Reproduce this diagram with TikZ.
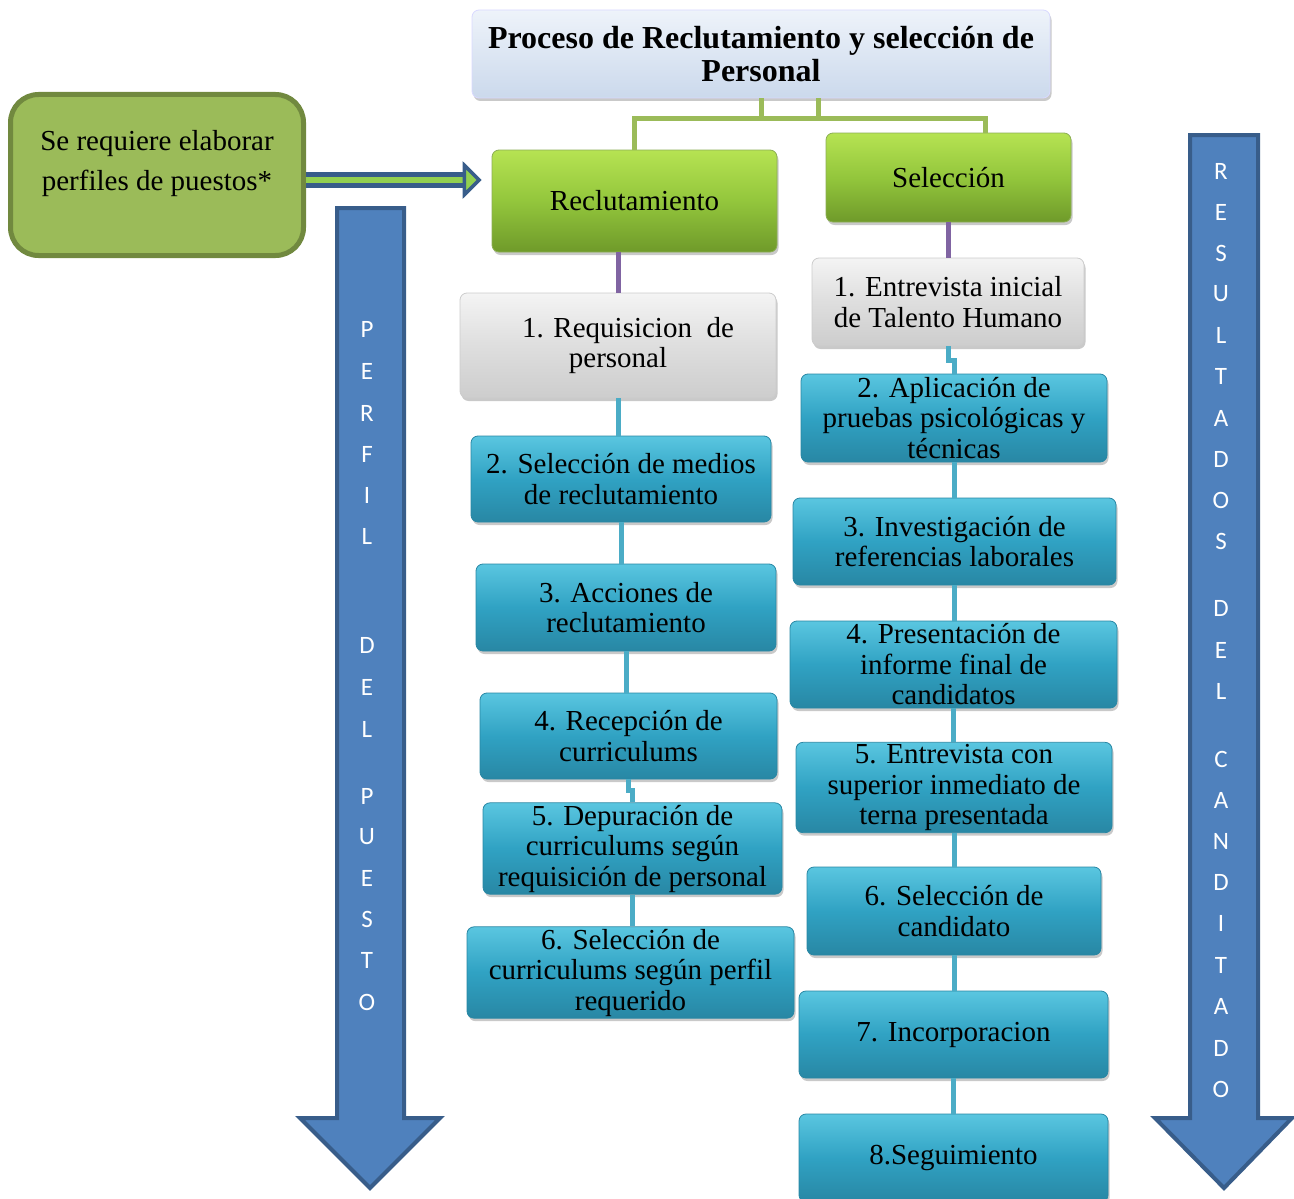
\documentclass[tikz,border=0pt]{standalone}
\usepackage{fontspec}
\setmainfont{Liberation Serif}
\newfontfamily\ltrfont{Carlito}
\usetikzlibrary{positioning, shadows, arrows.meta}

\definecolor{titletop}{HTML}{EEF3FA}
\definecolor{titlebot}{HTML}{CBD9EC}
\definecolor{grntop}{HTML}{B6E352}
\definecolor{grnmid}{HTML}{93C63C}
\definecolor{grnbot}{HTML}{6F9A2A}
\definecolor{graytop}{HTML}{F4F4F4}
\definecolor{graymid}{HTML}{DEDEDE}
\definecolor{graybot}{HTML}{CDCDCD}
\definecolor{tealtop}{HTML}{5AC6E0}
\definecolor{tealmid}{HTML}{30A2C3}
\definecolor{tealbot}{HTML}{2887A4}
\definecolor{oliveg}{HTML}{9BBB59}
\definecolor{olived}{HTML}{71893F}
\definecolor{arrblue}{HTML}{4F81BD}
\definecolor{arrdark}{HTML}{385D8A}
\definecolor{purp}{HTML}{8064A2}
\definecolor{tealln}{HTML}{4BACC6}
\definecolor{arrgreen}{HTML}{92D050}

\tikzset{
every node/.style={ % Serif text, lines broken by hand
 font=\fontsize{29}{30.5}\selectfont, align=center, inner sep=2pt},
stepbox/.style={ % Common look of all boxes
 rounded corners=7pt, line width=0.8pt,
 drop shadow={shadow xshift=1.5pt, shadow yshift=-3pt, opacity=.3, fill=black!70}},
titlebox/.style={stepbox, draw=white!85!blue, top color=titletop, bottom color=titlebot,
 font=\fontsize{32}{33}\selectfont\bfseries},
grnbox/.style={stepbox, draw=grnbot!80, top color=grntop, bottom color=grnbot, middle color=grnmid},
graybox/.style={stepbox, draw=white!80!black, top color=graytop, bottom color=graybot, middle color=graymid},
tealbox/.style={stepbox, draw=tealbot, top color=tealtop, bottom color=tealbot, middle color=tealmid},
notebox/.style={ % Box on the left
 rounded corners=28pt, fill=oliveg, draw=olived, line width=5pt,
 font=\fontsize{29}{40}\selectfont},
grnline/.style={oliveg, line width=5pt},
purline/.style={purp, line width=5pt},
tealline/.style={tealln, line width=5pt},
bigarrow/.style={fill=arrblue, draw=arrdark, line width=4pt, line join=miter},
lttr/.style={font=\fontsize{25}{25}\ltrfont, text=white},
dblarrow/.style={draw=arrdark, line width=5pt, double=arrgreen, double distance=6pt,
 -{Triangle[length=19pt, width=37pt, line width=3.5pt, fill=arrgreen]}}}

\begin{document}
\begin{tikzpicture}[x=1pt, y=-1pt]
    \useasboundingbox (0,0) rectangle (1294,1199);

    % big arrows
    \draw[bigarrow] (337,208) -- (404,208) -- (404,1118) -- (440,1118) -- (370,1188)
        -- (300,1118) -- (337,1118) -- cycle;
    \draw[bigarrow] (1190,135) -- (1258,135) -- (1258,1118) -- (1292,1118) -- (1224,1188)
        -- (1155,1118) -- (1190,1118) -- cycle;
    \foreach \ch/\yy in {P/329, E/371, R/413, F/454, I/495, L/536, D/645, E/687, L/729,
        P/796, U/837, E/878, S/919, T/960, O/1002}
        \node[lttr] (pp\yy) at (367,\yy) {\ch};
    \foreach \ch/\yy in {R/171, E/212, S/253, U/294, L/335, T/376, A/418, D/459, O/500,
        S/541, D/608, E/650, L/691, C/759, A/800, N/841, D/882, I/923, T/965, A/1006,
        D/1048, O/1089}
        \node[lttr] (rc\yy) at (1221,\yy) {\ch};

    \node[titlebox, minimum width=578pt, minimum height=88pt] (title) at (761,54)
        {Proceso de Reclutamiento y selección de\\Personal};
    \node[grnbox, minimum width=285pt, minimum height=102pt] (recl) at (634.5,201) {Reclutamiento};
    \node[grnbox, minimum width=245pt, minimum height=89pt] (selc) at (948.5,177.5) {Selección};
    \node[notebox, minimum width=293pt, minimum height=161pt] (perfil) at (157,175)
        {Se requiere elaborar\\perfiles de puestos*\\[-22pt]\strut};

    % reclutamiento steps
    \node[graybox, minimum width=316pt, minimum height=105pt] (req1) at (618,345.5)
        {\hspace*{20pt}1. Requisicion~ de\\personal};
    \node[tealbox, minimum width=300pt, minimum height=86pt] (req2) at (621,479)
        {2. Selección de medios\\de reclutamiento};
    \node[tealbox, minimum width=300pt, minimum height=87pt] (req3) at (626,607.5)
        {3. Acciones de\\reclutamiento};
    \node[tealbox, minimum width=297pt, minimum height=86pt] (req4) at (628.5,736)
        {4. Recepción de\\curriculums};
    \node[tealbox, minimum width=299pt, minimum height=87pt] (req5) at (632.5,848.5)
        {5. Depuración de\\curriculums según\\requisición de personal};
    \node[tealbox, minimum width=327pt, minimum height=87pt] (req6) at (630.5,972.5)
        {6. Selección de\\curriculums según perfil\\requerido};

    % seleccion steps
    \node[graybox, minimum width=272pt, minimum height=88pt] (sel1) at (948,302)
        {1. Entrevista inicial\\de Talento Humano};
    \node[tealbox, minimum width=306pt, minimum height=88pt] (sel2) at (954,418)
        {2. Aplicación de\\pruebas psicológicas y\\técnicas};
    \node[tealbox, minimum width=323pt, minimum height=87pt] (sel3) at (954.5,541.5)
        {3. Investigación de\\referencias laborales};
    \node[tealbox, minimum width=327pt, minimum height=87pt] (sel4) at (953.5,664.5)
        {4. Presentación de\\informe final de\\candidatos};
    \node[tealbox, minimum width=316pt, minimum height=87pt] (sel5) at (954,787.5)
        {5. Entrevista con\\superior inmediato de\\terna presentada};
    \node[tealbox, minimum width=294pt, minimum height=88pt] (sel6) at (954,911)
        {6. Selección de\\candidato};
    \node[tealbox, minimum width=309pt, minimum height=87pt] (sel7) at (953.5,1034.5)
        {7. Incorporacion};
    \node[tealbox, minimum width=309pt, minimum height=88pt] (sel8) at (953.5,1158)
        {8.Seguimiento};

    \draw[grnline] ([xshift=57pt]title.south) -- ++(0,20) -| (recl.north);
    \draw[grnline] (title.south) -- ++(0,20) -| ([xshift=37pt]selc.north);
    \draw[purline] (req1.north) -- (req1.north |- recl.south);
    \draw[purline] (sel1.north) -- (sel1.north |- selc.south);
    \draw[dblarrow] ([yshift=-5pt]perfil.east) -- ([yshift=-5pt,xshift=-10pt]perfil.east -| recl.west);

    \draw[tealline] (req1.south) -- (req1.south |- req2.north);
    \draw[tealline] (req2.south) -- (req2.south |- req3.north);
    \draw[tealline] (req3.south) -- (req3.south |- req4.north);
    \draw[tealline] (req4.south) -- ++(0,11) -| (req5.north);
    \draw[tealline] (req5.south) -- (req5.south |- req6.north);

    \draw[tealline] (sel1.south) -- ++(0,14) -| (sel2.north);
    \draw[tealline] (sel2.south) -- (sel2.south |- sel3.north);
    \draw[tealline] (sel3.south) -- (sel3.south |- sel4.north);
    \draw[tealline] (sel4.south) -- (sel4.south |- sel5.north);
    \draw[tealline] (sel5.south) -- (sel5.south |- sel6.north);
    \draw[tealline] (sel6.south) -- (sel6.south |- sel7.north);
    \draw[tealline] (sel7.south) -- (sel7.south |- sel8.north);

\end{tikzpicture}
\end{document}
